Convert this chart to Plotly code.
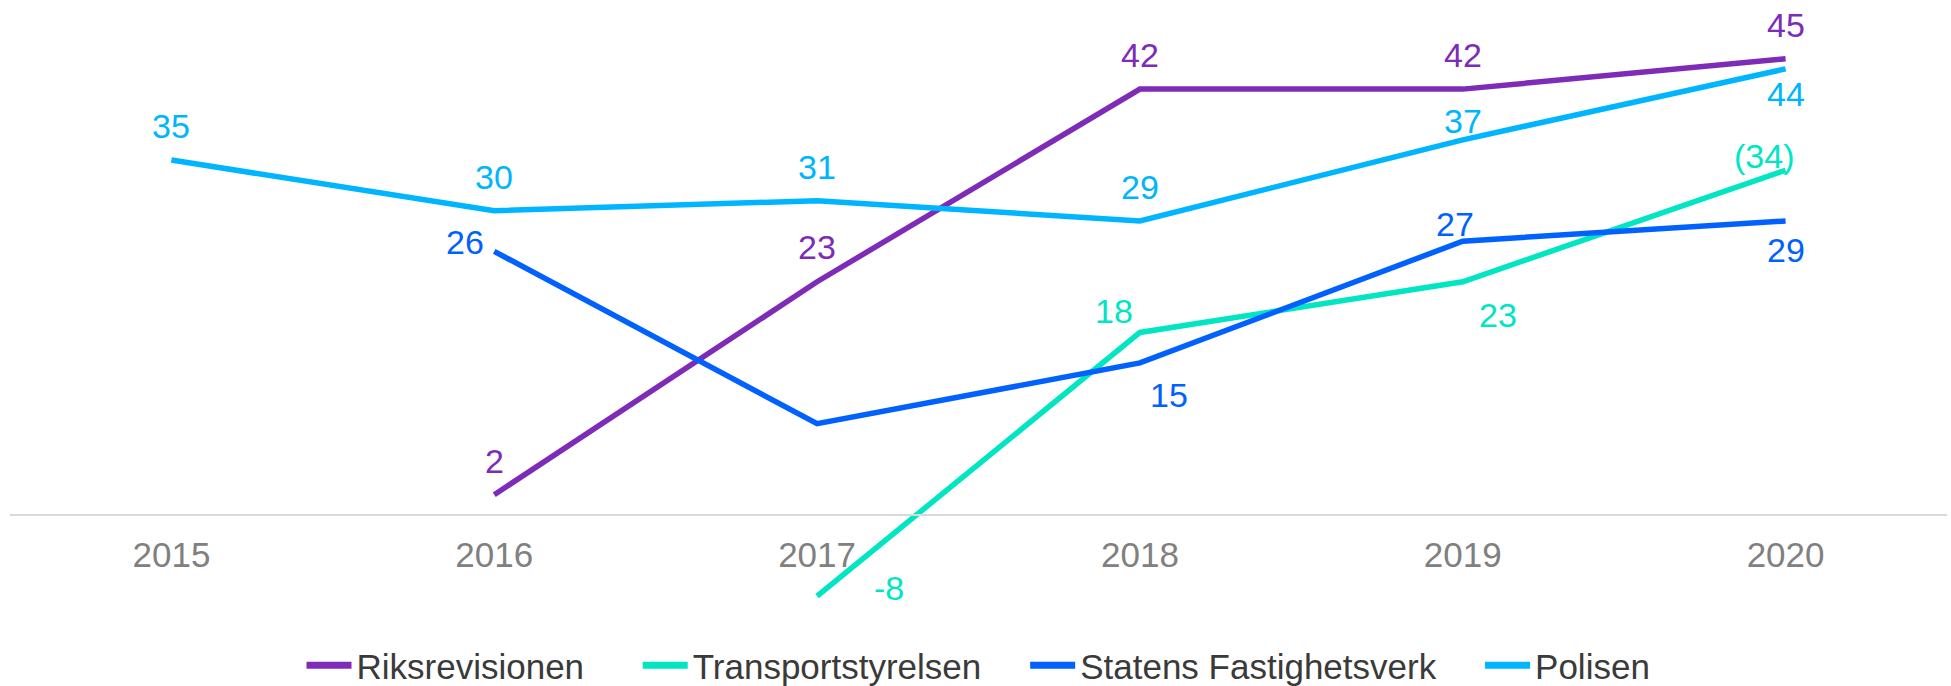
import plotly.graph_objects as go

years = ["2015", "2016", "2017", "2018", "2019", "2020"]

riksrevisionen = [None, 2, 23, 42, 42, 45]
transportstyrelsen = [None, None, -8, 18, 23, 34]
statens_fastighetsverk = [None, 26, 9, 15, 27, 29]
polisen = [35, 30, 31, 29, 37, 44]

riksrevisionen_labels = [None, "2", "23", "42", "42", "45"]
transportstyrelsen_labels = [None, None, "-8", "18", "23", "(34)"]
statens_labels = [None, "26", None, "15", "27", "29"]
polisen_labels = ["35", "30", "31", "29", "37", "44"]

series_names = ["Riksrevisionen", "Transportstyrelsen", "Statens Fastighetsverk", "Polisen"]

# styling (label offsets in pixels: right, up)
colors = ["#7E2BB8", "#00E6C3", "#0061FF", "#00B5FF"]
label_offsets = [
    [None, (0, 34), (0, 35), (0, 34), (0, 34), (0, 34)],
    [None, None, (72, 8), (-26, 21), (35, -33), (-22, 14)],
    [None, (-29, 9), None, (29, -32), (-8, 17), (0, -29)],
    [(0, 34), (0, 34), (0, 34), (0, 34), (0, 19), (0, -25)],
]
legend_pad = ["\u00a0" * 5, "\u00a0" * 4, "\u00a0" * 4, ""]

FONT = "Liberation Sans"
values = [riksrevisionen, transportstyrelsen, statens_fastighetsverk, polisen]
labels = [riksrevisionen_labels, transportstyrelsen_labels, statens_labels, polisen_labels]
xpos = list(range(len(years)))

fig = go.Figure()
for name, vals, col in zip(series_names, values, colors):
    fig.add_trace(go.Scatter(
        x=xpos, y=vals, name=name, mode="lines",
        line=dict(color=col, width=5.5),
        connectgaps=False, hoverinfo="skip", showlegend=False,
    ))

# legend entries (thicker line symbols, as in the reference)
for name, col, pad in zip(series_names, colors, legend_pad):
    fig.add_trace(go.Scatter(
        x=[None], y=[None], name=name + pad, mode="lines",
        line=dict(color=col, width=7), hoverinfo="skip", showlegend=True,
    ))

for vals, labs, col, offs in zip(values, labels, colors, label_offsets):
    for x, v, t, o in zip(xpos, vals, labs, offs):
        if t is None or v is None:
            continue
        fig.add_annotation(
            x=x, y=v, xref="x", yref="y", text=t, showarrow=False,
            xanchor="center", yanchor="middle", xshift=o[0], yshift=o[1],
            font=dict(family=FONT, size=34, color=col),
        )

ymin, ymax = -10.36, 50.79
fig.update_layout(
    width=1951, height=686,
    margin=dict(l=10, r=4, t=0, b=66, autoexpand=False),
    paper_bgcolor="white", plot_bgcolor="white",
    font=dict(family=FONT),
    showlegend=True,
    legend=dict(
        orientation="h", x=0.5, xanchor="center", y=-0.0735, yanchor="middle",
        font=dict(family=FONT, size=35, color="#3A3A3A"),
        itemwidth=45,
    ),
    xaxis=dict(
        range=[-0.5, 5.5], anchor="free",
        position=(0 - ymin) / (ymax - ymin),
        tickmode="array", tickvals=xpos, ticktext=years,
        showgrid=False, zeroline=False, showline=True,
        linecolor="#D9D9D9", linewidth=2,
        ticks="outside", ticklen=9, tickcolor="rgba(0,0,0,0)",
        tickfont=dict(family=FONT, size=35, color="#808080"),
    ),
    yaxis=dict(range=[ymin, ymax], visible=False, showgrid=False, zeroline=False),
)

fig.write_html(
    "out.html",
    config={"displayModeBar": False},
    post_script="document.body.style.margin='0';document.body.style.overflow='hidden';",
)
